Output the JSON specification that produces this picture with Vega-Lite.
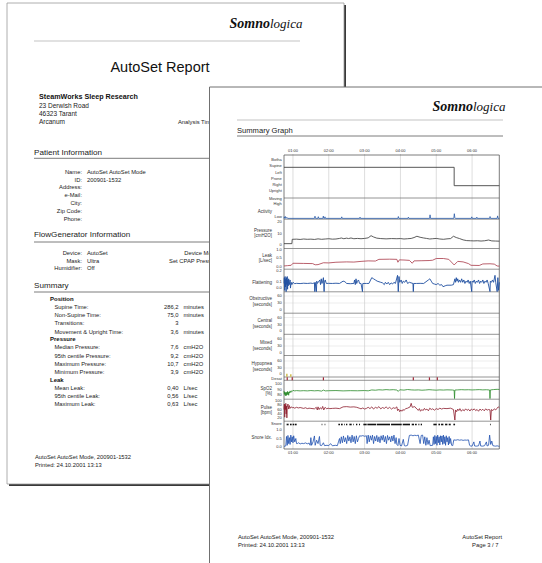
{
"$schema": "https://vega.github.io/schema/vega-lite/v6.json",
"width": 542, "height": 563, "autosize": {"type": "none"}, "padding": 0,
"background": "#ffffff",
"config": {"view": {"stroke": null}, "text": {"font": "Liberation Sans", "color": "#222222", "baseline": "middle"}},
"resolve": {"scale": {"x": "independent", "y": "independent"}},
"datasets": {
"pages": [{"page":"back","l":7,"t":3,"r":344,"b":484},{"page":"front","l":209.5,"t":87,"r":600,"b":620}],
"rules": [{"page":"back","kind":"logo","x1":34,"x2":300,"y":41},{"page":"back","kind":"section","x1":34,"x2":300,"y":158.3},{"page":"back","kind":"section","x1":34,"x2":300,"y":242},{"page":"back","kind":"section","x1":34,"x2":300,"y":292},{"page":"front","kind":"logo","x1":237,"x2":503,"y":120},{"page":"front","kind":"section","x1":237,"x2":503,"y":136}],
"logo": [{"page":"back","a":"Somno","b":"logica","x":270,"y":28},{"page":"front","a":"Somno","b":"logica","x":473,"y":110.5}],
"title": [{"t":"AutoSet Report","x":160,"y":68}],
"org": [{"t":"SteamWorks Sleep Research","x":39,"y":96.5}],
"address": [{"t":"23 Derwish Road","x":39,"y":106},{"t":"46323 Tarant","x":39,"y":113.7},{"t":"Arcanum","x":39,"y":122}],
"sections": [{"page":"back","t":"Patient Information","x":34,"y":152.5},{"page":"back","t":"FlowGenerator Information","x":34,"y":235},{"page":"back","t":"Summary","x":34,"y":286},{"page":"front","t":"Summary Graph","x":237,"y":130.5}],
"subheads": [{"t":"Position","x":50,"y":299.3},{"t":"Pressure","x":50,"y":339.3},{"t":"Leak","x":50,"y":380}],
"textL": [
{"page":"back","t":"Analysis Time:","x":178,"y":122},
{"page":"back","t":"AutoSet AutoSet Mode","x":87,"y":172},
{"page":"back","t":"200901-1532","x":87,"y":179.5},
{"page":"back","t":"AutoSet","x":87,"y":253},
{"page":"back","t":"Ultra","x":87,"y":260.5},
{"page":"back","t":"Off","x":87,"y":268},
{"page":"back","t":"Supine Time:","x":54.5,"y":307.3},
{"page":"back","t":"Non-Supine Time:","x":54.5,"y":315},
{"page":"back","t":"Transitions:","x":54.5,"y":323.3},
{"page":"back","t":"Movement & Upright Time:","x":54.5,"y":331.7},
{"page":"back","t":"Median Pressure:","x":54.5,"y":347.3},
{"page":"back","t":"95th centile Pressure:","x":54.5,"y":355.5},
{"page":"back","t":"Maximum Pressure:","x":54.5,"y":363.5},
{"page":"back","t":"Minimum Pressure:","x":54.5,"y":371.5},
{"page":"back","t":"Mean Leak:","x":54.5,"y":388.3},
{"page":"back","t":"95th centile Leak:","x":54.5,"y":396.2},
{"page":"back","t":"Maximum Leak:","x":54.5,"y":404},
{"page":"back","t":"minutes","x":183.5,"y":307.3},
{"page":"back","t":"minutes","x":183.5,"y":315},
{"page":"back","t":"minutes","x":183.5,"y":331.7},
{"page":"back","t":"cmH2O","x":183.5,"y":347.3},
{"page":"back","t":"cmH2O","x":183.5,"y":355.5},
{"page":"back","t":"cmH2O","x":183.5,"y":363.5},
{"page":"back","t":"cmH2O","x":183.5,"y":371.5},
{"page":"back","t":"L/sec","x":183.5,"y":388.3},
{"page":"back","t":"L/sec","x":183.5,"y":396.2},
{"page":"back","t":"L/sec","x":183.5,"y":404},
{"page":"back","t":"AutoSet AutoSet Mode, 200901-1532","x":35,"y":456.8},
{"page":"back","t":"Printed: 24.10.2001 13:13","x":35,"y":465},
{"page":"front","t":"AutoSet AutoSet Mode, 200901-1532","x":238,"y":537},
{"page":"front","t":"Printed: 24.10.2001 13:13","x":238,"y":545.3}],
"textR": [
{"page":"back","t":"Name:","x":82,"y":172},
{"page":"back","t":"ID:","x":82,"y":179.5},
{"page":"back","t":"Address:","x":82,"y":187.3},
{"page":"back","t":"e-Mail:","x":82,"y":195},
{"page":"back","t":"City:","x":82,"y":203.3},
{"page":"back","t":"Zip Code:","x":82,"y":211.3},
{"page":"back","t":"Phone:","x":82,"y":219},
{"page":"back","t":"Device:","x":82,"y":253},
{"page":"back","t":"Mask:","x":82,"y":260.5},
{"page":"back","t":"Humidifier:","x":82,"y":268},
{"page":"back","t":"Device Model:","x":221,"y":253},
{"page":"back","t":"Set CPAP Pressure:","x":221,"y":260.5},
{"page":"back","t":"286,2","x":178.5,"y":307.3},
{"page":"back","t":"75,0","x":178.5,"y":315},
{"page":"back","t":"3","x":178.5,"y":323.3},
{"page":"back","t":"3,6","x":178.5,"y":331.7},
{"page":"back","t":"7,6","x":178.5,"y":347.3},
{"page":"back","t":"9,2","x":178.5,"y":355.5},
{"page":"back","t":"10,7","x":178.5,"y":363.5},
{"page":"back","t":"3,9","x":178.5,"y":371.5},
{"page":"back","t":"0,40","x":178.5,"y":388.3},
{"page":"back","t":"0,56","x":178.5,"y":396.2},
{"page":"back","t":"0,63","x":178.5,"y":404},
{"page":"front","t":"AutoSet Report","x":502,"y":537},
{"page":"front","t":"Page  3 / 7","x":498.5,"y":545.3}],
"hours": [{"h":1,"t":"01:00"},{"h":2,"t":"02:00"},{"h":3,"t":"03:00"},{"h":4,"t":"04:00"},{"h":5,"t":"05:00"},{"h":6,"t":"06:00"}],
"seps": [{"y":198},{"y":219.2},{"y":248.5},{"y":269.2},{"y":291.8},{"y":313.2},{"y":334.3},{"y":355.5},{"y":377},{"y":380.3},{"y":399.2},{"y":421.2}],
"evgrid": [{"y":296},{"y":303},{"y":317.5},{"y":325},{"y":339},{"y":346},{"y":361},{"y":368}],
"frame": [{"top":155,"bottom":449}],
"chartR": [
{"t":"Botha","y":160},{"t":"Supine","y":166.3},{"t":"Left","y":172.7},{"t":"Prone","y":178.7},{"t":"Right","y":184.5},{"t":"Upright","y":190.5},
{"t":"Moving","y":198.9},{"t":"High","y":203.9},{"t":"Low","y":216.7},
{"t":"20","y":221.8},{"t":"10","y":233.8},{"t":"0","y":244.5},
{"t":"1.0","y":250},{"t":"0.5","y":258.3},{"t":"0.0","y":266.5},
{"t":"0.2","y":270.9},{"t":"0.1","y":282.2},{"t":"0.0","y":288},
{"t":"60","y":296},{"t":"30","y":303},{"t":"0","y":310},
{"t":"60","y":317.5},{"t":"30","y":325},{"t":"0","y":331},
{"t":"60","y":339},{"t":"30","y":346},{"t":"0","y":352.5},
{"t":"60","y":361},{"t":"30","y":368},{"t":"0","y":374},
{"t":"Desat","y":379},
{"t":"100","y":384.3},{"t":"90","y":390},{"t":"80","y":395},
{"t":"100","y":401},{"t":"80","y":405.2},{"t":"60","y":409.5},{"t":"40","y":414},{"t":"20","y":418.3},
{"t":"Snore","y":423.5},
{"t":"1.0","y":430.3},{"t":"0.5","y":438.5},{"t":"0.0","y":446.8}],
"chartT": [
{"t":"Activity","y":211.7},
{"t":"Pressure","y":231.3},{"t":"[cmH2O]","y":236.2},
{"t":"Leak","y":256.3},{"t":"[L/sec]","y":261.3},
{"t":"Flattening","y":283},
{"t":"Obstructive","y":299.3},{"t":"[seconds]","y":305.3},
{"t":"Central","y":321.3},{"t":"[seconds]","y":326.5},
{"t":"Mixed","y":343},{"t":"[seconds]","y":349},
{"t":"Hypopnea","y":364},{"t":"[seconds]","y":369.7},
{"t":"SpO2","y":389.2},{"t":"[%]","y":394.2},
{"t":"Pulse","y":407.7},{"t":"[bpm]","y":412.7},
{"t":"Snore Idx.","y":438.3}],
"pos": [{"h":0.75,"v":4},{"h":5.5,"v":1},{"h":6.76,"v":1}],
"act": [{"h":0.75,"v":0.05},{"h":0.76,"v":0.3},{"h":0.775,"v":0.08},{"h":0.79,"v":0.35},{"h":0.805,"v":0.05},{"h":0.83,"v":0.22},{"h":0.85,"v":0.05},{"h":1.6,"v":0.05},{"h":1.615,"v":0.4},{"h":1.63,"v":0.05},{"h":1.695,"v":0.05},{"h":1.708,"v":0.32},{"h":1.72,"v":0.05},{"h":1.835,"v":0.05},{"h":1.848,"v":0.42},{"h":1.86,"v":0.05},{"h":1.882,"v":0.05},{"h":1.894,"v":0.3},{"h":1.906,"v":0.05},{"h":2.35,"v":0.05},{"h":2.362,"v":0.3},{"h":2.375,"v":0.05},{"h":2.86,"v":0.05},{"h":2.872,"v":0.25},{"h":2.885,"v":0.05},{"h":3.93,"v":0.05},{"h":3.942,"v":0.35},{"h":3.955,"v":0.05},{"h":4.21,"v":0.05},{"h":4.222,"v":0.25},{"h":4.235,"v":0.05},{"h":4.815,"v":0.05},{"h":4.827,"v":0.62},{"h":4.84,"v":0.05},{"h":5.49,"v":0.05},{"h":5.505,"v":0.8},{"h":5.52,"v":0.12},{"h":5.535,"v":0.05},{"h":5.98,"v":0.05},{"h":5.992,"v":0.3},{"h":6.005,"v":0.05},{"h":6.12,"v":0.05},{"h":6.132,"v":0.25},{"h":6.145,"v":0.05},{"h":6.49,"v":0.05},{"h":6.502,"v":0.35},{"h":6.515,"v":0.05},{"h":6.7,"v":0.05},{"h":6.712,"v":0.45},{"h":6.725,"v":0.05},{"h":6.76,"v":0.05}],
"pres": [{"h":0.75,"v":3.0},{"h":0.97,"v":3.0},{"h":0.98,"v":6.0},{"h":1.1,"v":6.1},{"h":1.2,"v":5.9},{"h":1.3,"v":6.2},{"h":1.4,"v":6.0},{"h":1.5,"v":6.1},{"h":1.6,"v":5.9},{"h":1.7,"v":6.3},{"h":1.8,"v":6.0},{"h":1.9,"v":6.2},{"h":2.0,"v":6.4},{"h":2.1,"v":6.1},{"h":2.2,"v":6.2},{"h":2.3,"v":6.6},{"h":2.35,"v":6.9},{"h":2.42,"v":6.4},{"h":2.5,"v":6.8},{"h":2.55,"v":6.5},{"h":2.62,"v":6.9},{"h":2.7,"v":6.4},{"h":2.8,"v":6.6},{"h":2.9,"v":6.4},{"h":3.0,"v":6.6},{"h":3.1,"v":7.0},{"h":3.18,"v":8.5},{"h":3.25,"v":7.6},{"h":3.34,"v":6.8},{"h":3.45,"v":6.5},{"h":3.6,"v":6.3},{"h":3.75,"v":6.5},{"h":3.9,"v":6.4},{"h":4.0,"v":6.5},{"h":4.1,"v":6.2},{"h":4.2,"v":6.4},{"h":4.3,"v":6.6},{"h":4.38,"v":7.2},{"h":4.46,"v":8.1},{"h":4.55,"v":7.4},{"h":4.65,"v":6.9},{"h":4.73,"v":6.6},{"h":4.82,"v":6.2},{"h":4.9,"v":6.4},{"h":5.0,"v":6.6},{"h":5.1,"v":6.2},{"h":5.2,"v":6.0},{"h":5.3,"v":6.3},{"h":5.4,"v":6.5},{"h":5.48,"v":8.1},{"h":5.56,"v":7.2},{"h":5.65,"v":6.5},{"h":5.75,"v":5.6},{"h":5.85,"v":5.1},{"h":5.95,"v":5.0},{"h":6.05,"v":4.9},{"h":6.15,"v":5.0},{"h":6.25,"v":4.8},{"h":6.35,"v":5.0},{"h":6.46,"v":5.5},{"h":6.55,"v":4.9},{"h":6.65,"v":4.8},{"h":6.76,"v":4.7}],
"leak": [{"h":0.75,"v":0.06},{"h":0.85,"v":0.08},{"h":0.95,"v":0.1},{"h":1.0,"v":0.22},{"h":1.3,"v":0.21},{"h":1.55,"v":0.2},{"h":1.62,"v":0.13},{"h":1.7,"v":0.14},{"h":1.85,"v":0.25},{"h":2.0,"v":0.24},{"h":2.2,"v":0.28},{"h":2.5,"v":0.3},{"h":2.7,"v":0.29},{"h":2.9,"v":0.33},{"h":3.1,"v":0.36},{"h":3.3,"v":0.35},{"h":3.4,"v":0.45},{"h":3.7,"v":0.46},{"h":3.9,"v":0.45},{"h":3.93,"v":0.28},{"h":3.97,"v":0.42},{"h":4.1,"v":0.41},{"h":4.25,"v":0.39},{"h":4.33,"v":0.22},{"h":4.38,"v":0.36},{"h":4.6,"v":0.37},{"h":4.8,"v":0.38},{"h":4.9,"v":0.4},{"h":5.0,"v":0.5},{"h":5.2,"v":0.5},{"h":5.35,"v":0.45},{"h":5.5,"v":0.12},{"h":5.6,"v":0.33},{"h":5.75,"v":0.3},{"h":5.9,"v":0.2},{"h":5.97,"v":0.1},{"h":6.2,"v":0.09},{"h":6.3,"v":0.18},{"h":6.5,"v":0.19},{"h":6.62,"v":0.17},{"h":6.7,"v":0.06},{"h":6.76,"v":0.05}],
"flat": [{"h":0.75,"v":0.09},{"h":0.76,"v":0.14},{"h":0.77,"v":0.03},{"h":0.78,"v":0.15},{"h":0.79,"v":0.06},{"h":0.8,"v":0.13},{"h":0.81,"v":0.02},{"h":0.82,"v":0.14},{"h":0.83,"v":0.08},{"h":0.84,"v":0.15},{"h":0.85,"v":0.04},{"h":0.86,"v":0.12},{"h":0.87,"v":0.07},{"h":0.88,"v":0.13},{"h":0.9,"v":0.08},{"h":0.92,"v":0.12},{"h":0.93,"v":0.05},{"h":0.95,"v":0.1},{"h":0.97,"v":0.08},{"h":1.0,"v":0.1},{"h":1.05,"v":0.088},{"h":1.1,"v":0.091},{"h":1.2,"v":0.089},{"h":1.3,"v":0.092},{"h":1.4,"v":0.09},{"h":1.5,"v":0.093},{"h":1.55,"v":0.09},{"h":1.6,"v":0.095},{"h":1.61,"v":0.02},{"h":1.62,"v":0.1},{"h":1.655,"v":0.02},{"h":1.665,"v":0.11},{"h":1.68,"v":0.09},{"h":1.75,"v":0.12},{"h":1.77,"v":0.08},{"h":1.79,"v":0.13},{"h":1.81,"v":0.09},{"h":1.83,"v":0.11},{"h":1.85,"v":0.14},{"h":1.87,"v":0.02},{"h":1.88,"v":0.1},{"h":1.9,"v":0.12},{"h":1.93,"v":0.09},{"h":2.0,"v":0.091},{"h":2.1,"v":0.09},{"h":2.2,"v":0.092},{"h":2.3,"v":0.09},{"h":2.4,"v":0.11},{"h":2.45,"v":0.105},{"h":2.5,"v":0.09},{"h":2.6,"v":0.088},{"h":2.7,"v":0.09},{"h":2.72,"v":0.12},{"h":2.74,"v":0.08},{"h":2.76,"v":0.13},{"h":2.78,"v":0.09},{"h":2.8,"v":0.11},{"h":2.83,"v":0.12},{"h":2.86,"v":0.09},{"h":2.9,"v":0.09},{"h":2.94,"v":0.02},{"h":2.95,"v":0.09},{"h":3.05,"v":0.09},{"h":3.12,"v":0.09},{"h":3.2,"v":0.14},{"h":3.25,"v":0.13},{"h":3.3,"v":0.12},{"h":3.35,"v":0.11},{"h":3.45,"v":0.1},{"h":3.5,"v":0.095},{"h":3.55,"v":0.08},{"h":3.58,"v":0.1},{"h":3.62,"v":0.085},{"h":3.66,"v":0.1},{"h":3.7,"v":0.08},{"h":3.74,"v":0.095},{"h":3.78,"v":0.085},{"h":3.82,"v":0.1},{"h":3.86,"v":0.09},{"h":3.92,"v":0.16},{"h":3.94,"v":0.02},{"h":3.96,"v":0.15},{"h":3.98,"v":0.1},{"h":4.02,"v":0.12},{"h":4.05,"v":0.09},{"h":4.08,"v":0.11},{"h":4.12,"v":0.1},{"h":4.16,"v":0.12},{"h":4.2,"v":0.09},{"h":4.25,"v":0.1},{"h":4.35,"v":0.09},{"h":4.36,"v":0.02},{"h":4.37,"v":0.09},{"h":4.45,"v":0.09},{"h":4.55,"v":0.091},{"h":4.65,"v":0.09},{"h":4.78,"v":0.12},{"h":4.82,"v":0.13},{"h":4.86,"v":0.11},{"h":4.9,"v":0.09},{"h":4.95,"v":0.085},{"h":5.0,"v":0.08},{"h":5.05,"v":0.09},{"h":5.1,"v":0.075},{"h":5.15,"v":0.08},{"h":5.19,"v":0.062},{"h":5.25,"v":0.07},{"h":5.3,"v":0.075},{"h":5.42,"v":0.075},{"h":5.48,"v":0.08},{"h":5.52,"v":0.13},{"h":5.54,"v":0.1},{"h":5.56,"v":0.14},{"h":5.58,"v":0.11},{"h":5.6,"v":0.13},{"h":5.62,"v":0.1},{"h":5.65,"v":0.12},{"h":5.68,"v":0.1},{"h":5.71,"v":0.13},{"h":5.74,"v":0.1},{"h":5.77,"v":0.12},{"h":5.8,"v":0.09},{"h":5.83,"v":0.11},{"h":5.86,"v":0.1},{"h":5.89,"v":0.12},{"h":5.92,"v":0.09},{"h":5.95,"v":0.11},{"h":5.99,"v":0.02},{"h":6.0,"v":0.11},{"h":6.03,"v":0.1},{"h":6.06,"v":0.12},{"h":6.09,"v":0.09},{"h":6.12,"v":0.11},{"h":6.15,"v":0.1},{"h":6.18,"v":0.12},{"h":6.21,"v":0.09},{"h":6.24,"v":0.11},{"h":6.27,"v":0.1},{"h":6.3,"v":0.12},{"h":6.33,"v":0.09},{"h":6.36,"v":0.11},{"h":6.39,"v":0.1},{"h":6.42,"v":0.12},{"h":6.45,"v":0.09},{"h":6.5,"v":0.02},{"h":6.51,"v":0.11},{"h":6.54,"v":0.1},{"h":6.57,"v":0.12},{"h":6.6,"v":0.1},{"h":6.64,"v":0.16},{"h":6.66,"v":0.1},{"h":6.7,"v":0.02},{"h":6.72,"v":0.14},{"h":6.74,"v":0.03},{"h":6.76,"v":0.1}],
"hypo": [{"s":0.81,"e":0.85,"d":12},{"s":0.92,"e":0.96,"d":10}],
"desat": [{"h":0.84},{"h":0.98},{"h":1.85},{"h":4.36},{"h":4.81},{"h":5.03}],
"spo2": [{"h":0.75,"v":88},{"h":0.76,"v":82},{"h":0.77,"v":86},{"h":0.78,"v":80},{"h":0.79,"v":85},{"h":0.8,"v":79},{"h":0.81,"v":84},{"h":0.82,"v":80},{"h":0.83,"v":86},{"h":0.84,"v":81},{"h":0.85,"v":87},{"h":0.86,"v":82},{"h":0.87,"v":85},{"h":0.88,"v":80},{"h":0.89,"v":86},{"h":0.9,"v":84},{"h":0.92,"v":88},{"h":0.94,"v":85},{"h":0.96,"v":88},{"h":0.98,"v":87},{"h":1.0,"v":89},{"h":1.05,"v":88},{"h":1.1,"v":88.5},{"h":1.2,"v":88},{"h":1.3,"v":88.4},{"h":1.4,"v":88},{"h":1.5,"v":88.6},{"h":1.6,"v":88.1},{"h":1.7,"v":88.5},{"h":1.8,"v":87.6},{"h":1.85,"v":89.5},{"h":1.9,"v":88},{"h":2.0,"v":88.3},{"h":2.2,"v":88.6},{"h":2.4,"v":88},{"h":2.6,"v":88.4},{"h":2.8,"v":88.2},{"h":3.0,"v":88.6},{"h":3.1,"v":88.1},{"h":3.2,"v":89.7},{"h":3.3,"v":89.2},{"h":3.4,"v":90},{"h":3.5,"v":89.6},{"h":3.6,"v":90.3},{"h":3.7,"v":89.8},{"h":3.8,"v":90.2},{"h":3.9,"v":89.5},{"h":3.94,"v":87},{"h":3.98,"v":90},{"h":4.1,"v":89.4},{"h":4.2,"v":90.5},{"h":4.3,"v":89.8},{"h":4.4,"v":89.5},{"h":4.5,"v":89.8},{"h":4.6,"v":89.2},{"h":4.7,"v":89.6},{"h":4.8,"v":90.2},{"h":4.9,"v":89.7},{"h":5.0,"v":89.3},{"h":5.1,"v":89.8},{"h":5.2,"v":89.5},{"h":5.3,"v":89.9},{"h":5.45,"v":89.6},{"h":5.5,"v":89},{"h":5.51,"v":74},{"h":5.52,"v":89.5},{"h":5.6,"v":89.8},{"h":5.7,"v":90.2},{"h":5.8,"v":89.9},{"h":5.9,"v":90.1},{"h":6.0,"v":89.7},{"h":6.1,"v":90},{"h":6.2,"v":90.3},{"h":6.3,"v":89.8},{"h":6.4,"v":90.1},{"h":6.49,"v":89.6},{"h":6.5,"v":74},{"h":6.51,"v":89.7},{"h":6.6,"v":90.4},{"h":6.7,"v":90.8},{"h":6.76,"v":90.6}],
"pulse": [{"h":0.75,"v":60},{"h":0.76,"v":85},{"h":0.77,"v":25},{"h":0.78,"v":80},{"h":0.79,"v":60},{"h":0.8,"v":88},{"h":0.81,"v":40},{"h":0.82,"v":75},{"h":0.83,"v":22},{"h":0.84,"v":70},{"h":0.86,"v":85},{"h":0.88,"v":62},{"h":0.9,"v":78},{"h":0.92,"v":65},{"h":0.95,"v":72},{"h":0.98,"v":68},{"h":1.0,"v":70},{"h":1.05,"v":66},{"h":1.1,"v":70},{"h":1.15,"v":67},{"h":1.2,"v":69},{"h":1.3,"v":65},{"h":1.35,"v":68},{"h":1.4,"v":64},{"h":1.45,"v":66},{"h":1.5,"v":65},{"h":1.6,"v":63},{"h":1.65,"v":70},{"h":1.68,"v":58},{"h":1.7,"v":72},{"h":1.73,"v":60},{"h":1.76,"v":68},{"h":1.8,"v":62},{"h":1.83,"v":74},{"h":1.86,"v":58},{"h":1.9,"v":70},{"h":1.94,"v":63},{"h":1.98,"v":66},{"h":2.03,"v":64},{"h":2.1,"v":65},{"h":2.2,"v":66},{"h":2.3,"v":64},{"h":2.4,"v":72},{"h":2.5,"v":73},{"h":2.6,"v":71},{"h":2.7,"v":72},{"h":2.78,"v":70},{"h":2.85,"v":66},{"h":2.9,"v":63},{"h":2.95,"v":67},{"h":3.0,"v":62},{"h":3.05,"v":65},{"h":3.1,"v":70},{"h":3.15,"v":64},{"h":3.2,"v":72},{"h":3.25,"v":62},{"h":3.3,"v":70},{"h":3.35,"v":66},{"h":3.4,"v":73},{"h":3.45,"v":63},{"h":3.5,"v":69},{"h":3.55,"v":65},{"h":3.6,"v":72},{"h":3.65,"v":64},{"h":3.7,"v":70},{"h":3.75,"v":62},{"h":3.8,"v":68},{"h":3.85,"v":65},{"h":3.9,"v":72},{"h":3.92,"v":55},{"h":3.95,"v":62},{"h":3.98,"v":50},{"h":4.01,"v":58},{"h":4.04,"v":52},{"h":4.07,"v":60},{"h":4.1,"v":56},{"h":4.15,"v":64},{"h":4.2,"v":66},{"h":4.27,"v":72},{"h":4.3,"v":88},{"h":4.33,"v":70},{"h":4.4,"v":73},{"h":4.46,"v":62},{"h":4.5,"v":56},{"h":4.53,"v":64},{"h":4.56,"v":52},{"h":4.6,"v":60},{"h":4.63,"v":55},{"h":4.67,"v":65},{"h":4.7,"v":58},{"h":4.74,"v":62},{"h":4.78,"v":54},{"h":4.82,"v":66},{"h":4.86,"v":60},{"h":4.9,"v":63},{"h":4.95,"v":57},{"h":5.0,"v":64},{"h":5.05,"v":60},{"h":5.1,"v":66},{"h":5.15,"v":62},{"h":5.2,"v":65},{"h":5.3,"v":64},{"h":5.4,"v":66},{"h":5.48,"v":60},{"h":5.52,"v":12},{"h":5.54,"v":58},{"h":5.57,"v":50},{"h":5.6,"v":62},{"h":5.63,"v":55},{"h":5.66,"v":64},{"h":5.7,"v":52},{"h":5.74,"v":60},{"h":5.78,"v":54},{"h":5.82,"v":63},{"h":5.86,"v":56},{"h":5.9,"v":61},{"h":5.94,"v":53},{"h":5.98,"v":62},{"h":6.02,"v":57},{"h":6.06,"v":63},{"h":6.1,"v":55},{"h":6.14,"v":60},{"h":6.18,"v":52},{"h":6.22,"v":62},{"h":6.26,"v":56},{"h":6.3,"v":61},{"h":6.34,"v":54},{"h":6.38,"v":63},{"h":6.42,"v":57},{"h":6.46,"v":60},{"h":6.5,"v":58},{"h":6.52,"v":12},{"h":6.54,"v":60},{"h":6.58,"v":55},{"h":6.62,"v":63},{"h":6.66,"v":58},{"h":6.7,"v":66},{"h":6.73,"v":72},{"h":6.76,"v":68}],
"snore": [{"s":0.823,"e":0.879},{"s":0.917,"e":0.963},{"s":0.991,"e":1.038},{"s":1.056,"e":1.103},{"s":1.801,"e":1.82},{"s":1.885,"e":1.903},{"s":2.267,"e":2.313},{"s":2.341,"e":2.388},{"s":2.425,"e":2.444},{"s":2.481,"e":2.518},{"s":2.574,"e":2.639},{"s":2.686,"e":2.704},{"s":2.76,"e":2.797},{"s":2.844,"e":2.872},{"s":2.965,"e":3.058},{"s":3.077,"e":3.319},{"s":3.338,"e":3.71},{"s":3.738,"e":4.036},{"s":4.064,"e":4.268},{"s":4.315,"e":4.38},{"s":4.408,"e":4.455},{"s":4.501,"e":4.529},{"s":4.566,"e":4.603},{"s":4.92,"e":5.013},{"s":5.06,"e":5.106},{"s":5.134,"e":5.199},{"s":5.246,"e":5.311},{"s":5.348,"e":5.404},{"s":5.478,"e":5.525},{"s":6.5,"e":6.52}],
"sidx": [{"h":0.75,"v":0.04},{"h":0.78,"v":0.05},{"h":0.8,"v":0.06},{"h":0.82,"v":0.62},{"h":0.84,"v":0.1},{"h":0.86,"v":0.68},{"h":0.88,"v":0.2},{"h":0.9,"v":0.55},{"h":0.92,"v":0.15},{"h":0.94,"v":0.7},{"h":0.96,"v":0.3},{"h":0.98,"v":0.6},{"h":1.0,"v":0.25},{"h":1.02,"v":0.66},{"h":1.05,"v":0.3},{"h":1.08,"v":0.5},{"h":1.1,"v":0.2},{"h":1.12,"v":0.2},{"h":1.16,"v":0.25},{"h":1.2,"v":0.18},{"h":1.25,"v":0.22},{"h":1.3,"v":0.2},{"h":1.35,"v":0.24},{"h":1.4,"v":0.19},{"h":1.45,"v":0.23},{"h":1.48,"v":0.1},{"h":1.5,"v":0.55},{"h":1.52,"v":0.1},{"h":1.56,"v":0.3},{"h":1.6,"v":0.65},{"h":1.62,"v":0.1},{"h":1.66,"v":0.4},{"h":1.7,"v":0.2},{"h":1.74,"v":0.62},{"h":1.76,"v":0.1},{"h":1.8,"v":0.08},{"h":1.85,"v":0.25},{"h":1.88,"v":0.08},{"h":1.95,"v":0.1},{"h":2.0,"v":0.08},{"h":2.05,"v":0.2},{"h":2.1,"v":0.07},{"h":2.18,"v":0.1},{"h":2.24,"v":0.08},{"h":2.27,"v":0.3},{"h":2.3,"v":0.5},{"h":2.32,"v":0.2},{"h":2.35,"v":0.6},{"h":2.38,"v":0.25},{"h":2.41,"v":0.65},{"h":2.44,"v":0.3},{"h":2.47,"v":0.55},{"h":2.5,"v":0.2},{"h":2.53,"v":0.68},{"h":2.56,"v":0.35},{"h":2.59,"v":0.6},{"h":2.62,"v":0.25},{"h":2.65,"v":0.7},{"h":2.68,"v":0.3},{"h":2.71,"v":0.62},{"h":2.74,"v":0.2},{"h":2.77,"v":0.66},{"h":2.8,"v":0.3},{"h":2.83,"v":0.5},{"h":2.86,"v":0.66},{"h":2.9,"v":0.64},{"h":2.95,"v":0.67},{"h":3.0,"v":0.63},{"h":3.05,"v":0.66},{"h":3.07,"v":0.2},{"h":3.1,"v":0.7},{"h":3.13,"v":0.3},{"h":3.16,"v":0.66},{"h":3.19,"v":0.4},{"h":3.22,"v":0.7},{"h":3.25,"v":0.2},{"h":3.28,"v":0.62},{"h":3.31,"v":0.35},{"h":3.34,"v":0.68},{"h":3.37,"v":0.3},{"h":3.4,"v":0.6},{"h":3.43,"v":0.25},{"h":3.46,"v":0.66},{"h":3.49,"v":0.4},{"h":3.52,"v":0.7},{"h":3.55,"v":0.3},{"h":3.58,"v":0.62},{"h":3.61,"v":0.2},{"h":3.64,"v":0.68},{"h":3.67,"v":0.4},{"h":3.7,"v":0.6},{"h":3.73,"v":0.3},{"h":3.76,"v":0.65},{"h":3.79,"v":0.35},{"h":3.82,"v":0.7},{"h":3.85,"v":0.2},{"h":3.88,"v":0.55},{"h":3.9,"v":0.15},{"h":3.93,"v":0.08},{"h":3.96,"v":0.5},{"h":3.99,"v":0.1},{"h":4.03,"v":0.06},{"h":4.08,"v":0.45},{"h":4.11,"v":0.08},{"h":4.15,"v":0.06},{"h":4.2,"v":0.1},{"h":4.25,"v":0.68},{"h":4.3,"v":0.7},{"h":4.35,"v":0.66},{"h":4.4,"v":0.69},{"h":4.45,"v":0.67},{"h":4.5,"v":0.7},{"h":4.55,"v":0.2},{"h":4.58,"v":0.68},{"h":4.62,"v":0.7},{"h":4.65,"v":0.2},{"h":4.68,"v":0.6},{"h":4.71,"v":0.1},{"h":4.74,"v":0.55},{"h":4.77,"v":0.15},{"h":4.8,"v":0.4},{"h":4.83,"v":0.08},{"h":4.9,"v":0.1},{"h":4.92,"v":0.6},{"h":4.94,"v":0.15},{"h":4.96,"v":0.68},{"h":4.98,"v":0.2},{"h":5.0,"v":0.62},{"h":5.02,"v":0.1},{"h":5.04,"v":0.7},{"h":5.06,"v":0.25},{"h":5.08,"v":0.6},{"h":5.1,"v":0.12},{"h":5.12,"v":0.66},{"h":5.14,"v":0.3},{"h":5.16,"v":0.65},{"h":5.18,"v":0.15},{"h":5.2,"v":0.7},{"h":5.22,"v":0.2},{"h":5.24,"v":0.6},{"h":5.26,"v":0.1},{"h":5.28,"v":0.66},{"h":5.3,"v":0.3},{"h":5.32,"v":0.55},{"h":5.34,"v":0.12},{"h":5.36,"v":0.62},{"h":5.38,"v":0.2},{"h":5.4,"v":0.5},{"h":5.43,"v":0.1},{"h":5.46,"v":0.08},{"h":5.49,"v":0.42},{"h":5.55,"v":0.4},{"h":5.6,"v":0.43},{"h":5.65,"v":0.4},{"h":5.7,"v":0.42},{"h":5.75,"v":0.39},{"h":5.8,"v":0.41},{"h":5.85,"v":0.4},{"h":5.9,"v":0.42},{"h":5.93,"v":0.1},{"h":5.96,"v":0.06},{"h":6.0,"v":0.05},{"h":6.05,"v":0.3},{"h":6.07,"v":0.06},{"h":6.12,"v":0.05},{"h":6.18,"v":0.07},{"h":6.22,"v":0.35},{"h":6.24,"v":0.06},{"h":6.3,"v":0.05},{"h":6.35,"v":0.08},{"h":6.4,"v":0.3},{"h":6.42,"v":0.06},{"h":6.46,"v":0.1},{"h":6.49,"v":0.7},{"h":6.52,"v":0.15},{"h":6.55,"v":0.35},{"h":6.58,"v":0.08},{"h":6.62,"v":0.06},{"h":6.66,"v":0.05},{"h":6.7,"v":0.07},{"h":6.73,"v":0.05},{"h":6.76,"v":0.04}]
},
"layer": [
{"data":{"name":"pages"},"transform":[{"filter":"datum.page==='back'"}],"mark":{"type":"rect","fill":"#3a3a3a","xOffset":2,"x2Offset":2,"yOffset":2,"y2Offset":2},
 "encoding":{"x":{"field":"l","type":"quantitative","scale":{"domain":[0,542],"range":[0,542],"nice":false,"zero":false},"axis":null},"x2":{"field":"r"},"y":{"field":"t","type":"quantitative","scale":{"domain":[0,563],"range":[0,563],"nice":false,"zero":false},"axis":null},"y2":{"field":"b"}}},
{"data":{"name":"pages"},"transform":[{"filter":"datum.page==='back'"}],"mark":{"type":"rect","fill":"#ffffff","stroke":"#9a9a9a","strokeWidth":0.8},
 "encoding":{"x":{"field":"l","type":"quantitative","scale":{"domain":[0,542],"range":[0,542],"nice":false,"zero":false},"axis":null},"x2":{"field":"r"},"y":{"field":"t","type":"quantitative","scale":{"domain":[0,563],"range":[0,563],"nice":false,"zero":false},"axis":null},"y2":{"field":"b"}}},
{"data":{"name":"rules"},"transform":[{"filter":"datum.page==='back'"}],"mark":{"type":"rule","strokeWidth":0.8},
 "encoding":{"x":{"field":"x1","type":"quantitative","scale":{"domain":[0,542],"range":[0,542],"nice":false,"zero":false},"axis":null},"x2":{"field":"x2"},"y":{"field":"y","type":"quantitative","scale":{"domain":[0,563],"range":[0,563],"nice":false,"zero":false},"axis":null},"color":{"field":"kind","type":"nominal","scale":{"domain":["logo","section"],"range":["#b4b4b4","#5a5a5a"]},"legend":null}}},
{"data":{"name":"logo"},"transform":[{"filter":"datum.page==='back'"}],"mark":{"type":"text","font":"Liberation Serif","fontStyle":"italic","fontWeight":"bold","fontSize":14,"align":"right","baseline":"alphabetic","color":"#111111"},
 "encoding":{"text":{"field":"a"},"x":{"field":"x","type":"quantitative","scale":{"domain":[0,542],"range":[0,542],"nice":false,"zero":false},"axis":null},"y":{"field":"y","type":"quantitative","scale":{"domain":[0,563],"range":[0,563],"nice":false,"zero":false},"axis":null}}},
{"data":{"name":"logo"},"transform":[{"filter":"datum.page==='back'"}],"mark":{"type":"text","font":"Liberation Serif","fontStyle":"italic","fontSize":13,"align":"left","baseline":"alphabetic","color":"#111111"},
 "encoding":{"text":{"field":"b"},"x":{"field":"x","type":"quantitative","scale":{"domain":[0,542],"range":[0,542],"nice":false,"zero":false},"axis":null},"y":{"field":"y","type":"quantitative","scale":{"domain":[0,563],"range":[0,563],"nice":false,"zero":false},"axis":null}}},
{"data":{"name":"title"},"mark":{"type":"text","fontSize":14.5,"align":"center","color":"#111111"},
 "encoding":{"text":{"field":"t"},"x":{"field":"x","type":"quantitative","scale":{"domain":[0,542],"range":[0,542],"nice":false,"zero":false},"axis":null},"y":{"field":"y","type":"quantitative","scale":{"domain":[0,563],"range":[0,563],"nice":false,"zero":false},"axis":null}}},
{"data":{"name":"org"},"mark":{"type":"text","fontSize":7.2,"fontWeight":"bold","align":"left","color":"#111111"},
 "encoding":{"text":{"field":"t"},"x":{"field":"x","type":"quantitative","scale":{"domain":[0,542],"range":[0,542],"nice":false,"zero":false},"axis":null},"y":{"field":"y","type":"quantitative","scale":{"domain":[0,563],"range":[0,563],"nice":false,"zero":false},"axis":null}}},
{"data":{"name":"address"},"mark":{"type":"text","fontSize":6.5,"align":"left"},
 "encoding":{"text":{"field":"t"},"x":{"field":"x","type":"quantitative","scale":{"domain":[0,542],"range":[0,542],"nice":false,"zero":false},"axis":null},"y":{"field":"y","type":"quantitative","scale":{"domain":[0,563],"range":[0,563],"nice":false,"zero":false},"axis":null}}},
{"data":{"name":"sections"},"transform":[{"filter":"datum.page==='back'"}],"mark":{"type":"text","fontSize":8.1,"align":"left","color":"#1a1a1a"},
 "encoding":{"text":{"field":"t"},"x":{"field":"x","type":"quantitative","scale":{"domain":[0,542],"range":[0,542],"nice":false,"zero":false},"axis":null},"y":{"field":"y","type":"quantitative","scale":{"domain":[0,563],"range":[0,563],"nice":false,"zero":false},"axis":null}}},
{"data":{"name":"textL"},"transform":[{"filter":"datum.page==='back'"}],"mark":{"type":"text","fontSize":5.8,"align":"left"},
 "encoding":{"text":{"field":"t"},"x":{"field":"x","type":"quantitative","scale":{"domain":[0,542],"range":[0,542],"nice":false,"zero":false},"axis":null},"y":{"field":"y","type":"quantitative","scale":{"domain":[0,563],"range":[0,563],"nice":false,"zero":false},"axis":null}}},
{"data":{"name":"textR"},"transform":[{"filter":"datum.page==='back'"}],"mark":{"type":"text","fontSize":5.8,"align":"right"},
 "encoding":{"text":{"field":"t"},"x":{"field":"x","type":"quantitative","scale":{"domain":[0,542],"range":[0,542],"nice":false,"zero":false},"axis":null},"y":{"field":"y","type":"quantitative","scale":{"domain":[0,563],"range":[0,563],"nice":false,"zero":false},"axis":null}}},
{"data":{"name":"subheads"},"mark":{"type":"text","fontSize":6,"fontWeight":"bold","align":"left","color":"#111111"},
 "encoding":{"text":{"field":"t"},"x":{"field":"x","type":"quantitative","scale":{"domain":[0,542],"range":[0,542],"nice":false,"zero":false},"axis":null},"y":{"field":"y","type":"quantitative","scale":{"domain":[0,563],"range":[0,563],"nice":false,"zero":false},"axis":null}}},
{"data":{"name":"pages"},"transform":[{"filter":"datum.page==='front'"}],"mark":{"type":"rect","fill":"#ffffff","stroke":"#707070","strokeWidth":1},
 "encoding":{"x":{"field":"l","type":"quantitative","scale":{"domain":[0,542],"range":[0,542],"nice":false,"zero":false},"axis":null},"x2":{"field":"r"},"y":{"field":"t","type":"quantitative","scale":{"domain":[0,563],"range":[0,563],"nice":false,"zero":false},"axis":null},"y2":{"field":"b"}}},
{"data":{"name":"rules"},"transform":[{"filter":"datum.page==='front'"}],"mark":{"type":"rule","strokeWidth":0.8},
 "encoding":{"x":{"field":"x1","type":"quantitative","scale":{"domain":[0,542],"range":[0,542],"nice":false,"zero":false},"axis":null},"x2":{"field":"x2"},"y":{"field":"y","type":"quantitative","scale":{"domain":[0,563],"range":[0,563],"nice":false,"zero":false},"axis":null},"color":{"field":"kind","type":"nominal","scale":{"domain":["logo","section"],"range":["#b4b4b4","#5a5a5a"]},"legend":null}}},
{"data":{"name":"logo"},"transform":[{"filter":"datum.page==='front'"}],"mark":{"type":"text","font":"Liberation Serif","fontStyle":"italic","fontWeight":"bold","fontSize":14,"align":"right","baseline":"alphabetic","color":"#111111"},
 "encoding":{"text":{"field":"a"},"x":{"field":"x","type":"quantitative","scale":{"domain":[0,542],"range":[0,542],"nice":false,"zero":false},"axis":null},"y":{"field":"y","type":"quantitative","scale":{"domain":[0,563],"range":[0,563],"nice":false,"zero":false},"axis":null}}},
{"data":{"name":"logo"},"transform":[{"filter":"datum.page==='front'"}],"mark":{"type":"text","font":"Liberation Serif","fontStyle":"italic","fontSize":13,"align":"left","baseline":"alphabetic","color":"#111111"},
 "encoding":{"text":{"field":"b"},"x":{"field":"x","type":"quantitative","scale":{"domain":[0,542],"range":[0,542],"nice":false,"zero":false},"axis":null},"y":{"field":"y","type":"quantitative","scale":{"domain":[0,563],"range":[0,563],"nice":false,"zero":false},"axis":null}}},
{"data":{"name":"sections"},"transform":[{"filter":"datum.page==='front'"}],"mark":{"type":"text","fontSize":7.6,"align":"left","color":"#1a1a1a"},
 "encoding":{"text":{"field":"t"},"x":{"field":"x","type":"quantitative","scale":{"domain":[0,542],"range":[0,542],"nice":false,"zero":false},"axis":null},"y":{"field":"y","type":"quantitative","scale":{"domain":[0,563],"range":[0,563],"nice":false,"zero":false},"axis":null}}},
{"data":{"name":"textL"},"transform":[{"filter":"datum.page==='front'"}],"mark":{"type":"text","fontSize":5.8,"align":"left"},
 "encoding":{"text":{"field":"t"},"x":{"field":"x","type":"quantitative","scale":{"domain":[0,542],"range":[0,542],"nice":false,"zero":false},"axis":null},"y":{"field":"y","type":"quantitative","scale":{"domain":[0,563],"range":[0,563],"nice":false,"zero":false},"axis":null}}},
{"data":{"name":"textR"},"transform":[{"filter":"datum.page==='front'"}],"mark":{"type":"text","fontSize":5.8,"align":"right"},
 "encoding":{"text":{"field":"t"},"x":{"field":"x","type":"quantitative","scale":{"domain":[0,542],"range":[0,542],"nice":false,"zero":false},"axis":null},"y":{"field":"y","type":"quantitative","scale":{"domain":[0,563],"range":[0,563],"nice":false,"zero":false},"axis":null}}},
{"data":{"name":"evgrid"},"mark":{"type":"rule","color":"#e0e0e0","strokeWidth":0.6},
 "encoding":{"x":{"datum":0.75,"type":"quantitative","scale":{"domain":[0.75,6.76],"range":[284,499.3],"nice":false,"zero":false},"axis":null},"x2":{"datum":6.76},"y":{"field":"y","type":"quantitative","scale":{"domain":[0,563],"range":[0,563],"nice":false,"zero":false},"axis":null}}},
{"data":{"name":"hours"},"mark":{"type":"rule","color":"#cfcfcf","strokeWidth":0.7},
 "encoding":{"x":{"field":"h","type":"quantitative","scale":{"domain":[0.75,6.76],"range":[284,499.3],"nice":false,"zero":false},"axis":null},"y":{"datum":154,"type":"quantitative","scale":{"domain":[0,563],"range":[0,563],"nice":false,"zero":false},"axis":null},"y2":{"datum":449}}},
{"data":{"name":"seps"},"mark":{"type":"rule","color":"#7a7a7a","strokeWidth":0.8},
 "encoding":{"x":{"datum":0.75,"type":"quantitative","scale":{"domain":[0.75,6.76],"range":[284,499.3],"nice":false,"zero":false},"axis":null},"x2":{"datum":6.76},"y":{"field":"y","type":"quantitative","scale":{"domain":[0,563],"range":[0,563],"nice":false,"zero":false},"axis":null}}},
{"data":{"name":"frame"},"mark":{"type":"rect","fillOpacity":0,"stroke":"#5a5a5a","strokeWidth":0.8},
 "encoding":{"x":{"datum":0.75,"type":"quantitative","scale":{"domain":[0.75,6.76],"range":[284,499.3],"nice":false,"zero":false},"axis":null},"x2":{"datum":6.76},"y":{"field":"top","type":"quantitative","scale":{"domain":[0,563],"range":[0,563],"nice":false,"zero":false},"axis":null},"y2":{"field":"bottom"}}},
{"data":{"name":"pos"},"mark":{"type":"line","interpolate":"step-after","color":"#444444","strokeWidth":0.9},
 "encoding":{"x":{"field":"h","type":"quantitative","scale":{"domain":[0.75,6.76],"range":[284,499.3],"nice":false,"zero":false},"axis":null},"y":{"field":"v","type":"quantitative","scale":{"domain":[0,5],"range":[191.8,161.2],"nice":false,"zero":false},"axis":null}}},
{"data":{"name":"act"},"mark":{"type":"line","color":"#2a5aa8","strokeWidth":0.8},
 "encoding":{"x":{"field":"h","type":"quantitative","scale":{"domain":[0.75,6.76],"range":[284,499.3],"nice":false,"zero":false},"axis":null},"y":{"field":"v","type":"quantitative","scale":{"domain":[0,3],"range":[218.7,200],"nice":false,"zero":false},"axis":null}}},
{"data":{"name":"pres"},"mark":{"type":"line","color":"#333333","strokeWidth":0.8},
 "encoding":{"x":{"field":"h","type":"quantitative","scale":{"domain":[0.75,6.76],"range":[284,499.3],"nice":false,"zero":false},"axis":null},"y":{"field":"v","type":"quantitative","scale":{"domain":[0,20],"range":[248,219],"nice":false,"zero":false},"axis":null}}},
{"data":{"name":"leak"},"mark":{"type":"line","color":"#a83848","strokeWidth":0.8},
 "encoding":{"x":{"field":"h","type":"quantitative","scale":{"domain":[0.75,6.76],"range":[284,499.3],"nice":false,"zero":false},"axis":null},"y":{"field":"v","type":"quantitative","scale":{"domain":[0,1],"range":[267,250],"nice":false,"zero":false},"axis":null}}},
{"data":{"name":"flat"},"mark":{"type":"line","color":"#1f4fa0","strokeWidth":0.9},
 "encoding":{"x":{"field":"h","type":"quantitative","scale":{"domain":[0.75,6.76],"range":[284,499.3],"nice":false,"zero":false},"axis":null},"y":{"field":"v","type":"quantitative","scale":{"domain":[0,0.2],"range":[293.9,270.7],"nice":false,"zero":false},"axis":null}}},
{"data":{"name":"hypo"},"mark":{"type":"rect","color":"#cdbb4a"},
 "encoding":{"x":{"field":"s","type":"quantitative","scale":{"domain":[0.75,6.76],"range":[284,499.3],"nice":false,"zero":false},"axis":null},"x2":{"field":"e"},"y":{"field":"d","type":"quantitative","scale":{"domain":[0,60],"range":[376.8,361],"nice":false,"zero":false},"axis":null},"y2":{"datum":0}}},
{"data":{"name":"desat"},"mark":{"type":"rule","color":"#a02838","strokeWidth":1.2},
 "encoding":{"x":{"field":"h","type":"quantitative","scale":{"domain":[0.75,6.76],"range":[284,499.3],"nice":false,"zero":false},"axis":null},"y":{"datum":0,"type":"quantitative","scale":{"domain":[0,1],"range":[380.3,377.3],"nice":false,"zero":false},"axis":null},"y2":{"datum":1}}},
{"data":{"name":"spo2"},"mark":{"type":"line","color":"#2a8a2a","strokeWidth":0.8},
 "encoding":{"x":{"field":"h","type":"quantitative","scale":{"domain":[0.75,6.76],"range":[284,499.3],"nice":false,"zero":false},"axis":null},"y":{"field":"v","type":"quantitative","scale":{"domain":[75,100],"range":[398,384.3],"nice":false,"zero":false},"axis":null}}},
{"data":{"name":"pulse"},"mark":{"type":"line","color":"#8c1c2c","strokeWidth":0.8},
 "encoding":{"x":{"field":"h","type":"quantitative","scale":{"domain":[0.75,6.76],"range":[284,499.3],"nice":false,"zero":false},"axis":null},"y":{"field":"v","type":"quantitative","scale":{"domain":[20,100],"range":[418.3,400.7],"nice":false,"zero":false},"axis":null}}},
{"data":{"name":"snore"},"mark":{"type":"rule","color":"#111111","strokeWidth":1.6},
 "encoding":{"x":{"field":"s","type":"quantitative","scale":{"domain":[0.75,6.76],"range":[284,499.3],"nice":false,"zero":false},"axis":null},"x2":{"field":"e"},"y":{"datum":0.5,"type":"quantitative","scale":{"domain":[0,1],"range":[427.5,421.5],"nice":false,"zero":false},"axis":null}}},
{"data":{"name":"sidx"},"mark":{"type":"line","color":"#2050b0","strokeWidth":0.8},
 "encoding":{"x":{"field":"h","type":"quantitative","scale":{"domain":[0.75,6.76],"range":[284,499.3],"nice":false,"zero":false},"axis":null},"y":{"field":"v","type":"quantitative","scale":{"domain":[0,1],"range":[447,430],"nice":false,"zero":false},"axis":null}}},
{"data":{"name":"chartR"},"mark":{"type":"text","fontSize":4,"align":"right","color":"#333333"},
 "encoding":{"text":{"field":"t"},"x":{"datum":281.8,"type":"quantitative","scale":{"domain":[0,542],"range":[0,542],"nice":false,"zero":false},"axis":null},"y":{"field":"y","type":"quantitative","scale":{"domain":[0,563],"range":[0,563],"nice":false,"zero":false},"axis":null}}},
{"data":{"name":"chartT"},"mark":{"type":"text","fontSize":4.5,"align":"right","color":"#333333"},
 "encoding":{"text":{"field":"t"},"x":{"datum":272,"type":"quantitative","scale":{"domain":[0,542],"range":[0,542],"nice":false,"zero":false},"axis":null},"y":{"field":"y","type":"quantitative","scale":{"domain":[0,563],"range":[0,563],"nice":false,"zero":false},"axis":null}}},
{"data":{"name":"hours"},"mark":{"type":"text","fontSize":4,"align":"center","color":"#333333"},
 "encoding":{"text":{"field":"t"},"x":{"field":"h","type":"quantitative","scale":{"domain":[0.75,6.76],"range":[284,499.3],"nice":false,"zero":false},"axis":null},"y":{"datum":151,"type":"quantitative","scale":{"domain":[0,563],"range":[0,563],"nice":false,"zero":false},"axis":null}}},
{"data":{"name":"hours"},"mark":{"type":"text","fontSize":4,"align":"center","color":"#333333"},
 "encoding":{"text":{"field":"t"},"x":{"field":"h","type":"quantitative","scale":{"domain":[0.75,6.76],"range":[284,499.3],"nice":false,"zero":false},"axis":null},"y":{"datum":452.7,"type":"quantitative","scale":{"domain":[0,563],"range":[0,563],"nice":false,"zero":false},"axis":null}}}
]
}
